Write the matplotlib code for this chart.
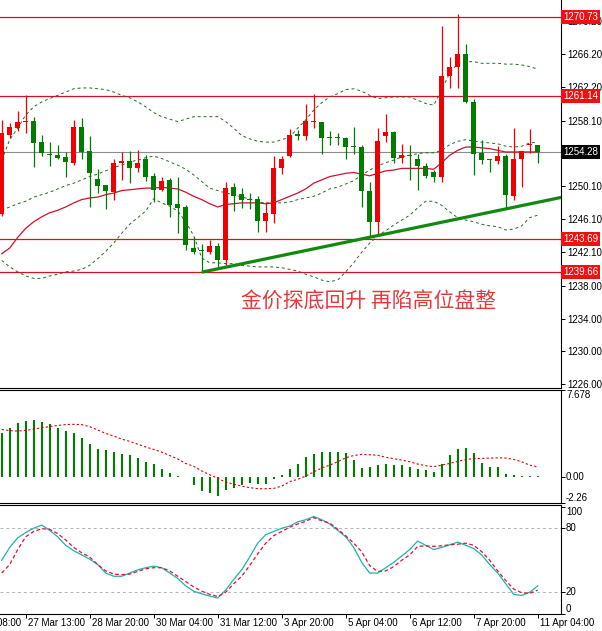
import numpy as np
import matplotlib
matplotlib.use('Agg')
import matplotlib.pyplot as plt
import matplotlib.transforms as mtransforms

# ---- candles (4h bars), oldest first ----
opens = [1246.8, 1256.4, 1257.2, 1257.9, 1258.1, 1255.5, 1253.95, 1253.9, 1253.7, 1253.0,
         1257.4, 1254.4, 1251.0, 1250.3, 1249.4, 1253.0, 1253.2, 1252.4, 1253.5, 1251.4,
         1249.7, 1250.9, 1248.0, 1247.6, 1242.6, 1242.3, 1242.1, 1242.8, 1241.1, 1250.0,
         1249.2, 1248.6, 1248.6, 1245.9, 1246.7, 1252.3, 1253.8, 1256.4, 1256.2, 1257.9,
         1258.0, 1256.05, 1256.05, 1256.05, 1254.9, 1254.95, 1249.5, 1245.8, 1256.2, 1256.7,
         1253.6, 1253.9, 1253.4, 1252.6, 1251.9, 1251.2, 1263.5, 1264.6, 1266.2, 1260.4,
         1254.2, 1253.4, 1253.2, 1253.8, 1248.9, 1253.5, 1255.2, 1255.2]
highs = [1258.2, 1257.8, 1259.3, 1261.2, 1258.6, 1256.4, 1255.5, 1255.1, 1254.3, 1258.2,
         1258.4, 1256.2, 1252.2, 1250.3, 1253.4, 1254.3, 1254.4, 1254.5, 1253.9, 1251.7,
         1251.2, 1251.1, 1251.3, 1247.8, 1244.0, 1243.1, 1243.6, 1243.2, 1250.6, 1250.5,
         1249.9, 1249.3, 1248.9, 1248.2, 1253.8, 1253.8, 1257.1, 1257.0, 1260.1, 1261.4,
         1258.0, 1256.8, 1256.6, 1256.1, 1257.4, 1255.2, 1250.6, 1257.2, 1258.9, 1256.8,
         1255.3, 1255.1, 1254.1, 1252.9, 1252.1, 1269.6, 1265.9, 1271.1, 1267.5, 1260.8,
         1255.8, 1253.5, 1255.0, 1254.0, 1257.2, 1254.4, 1257.1, 1255.2]
lows = [1246.5, 1256.0, 1256.9, 1256.6, 1252.5, 1253.8, 1252.6, 1253.4, 1251.2, 1252.7,
        1253.5, 1247.6, 1249.3, 1247.3, 1248.5, 1250.9, 1250.5, 1251.9, 1250.8, 1248.2,
        1249.6, 1246.4, 1244.4, 1242.4, 1241.9, 1239.66, 1241.9, 1240.3, 1240.5, 1247.1,
        1247.5, 1247.4, 1244.5, 1244.5, 1245.6, 1251.6, 1253.7, 1255.8, 1255.8, 1257.2,
        1254.1, 1255.2, 1255.1, 1253.5, 1254.1, 1247.6, 1244.0, 1244.2, 1255.5, 1252.9,
        1252.9, 1250.9, 1249.7, 1251.1, 1250.6, 1250.7, 1262.1, 1262.1, 1260.3, 1251.5,
        1252.8, 1251.9, 1252.8, 1247.4, 1248.5, 1250.0, 1254.2, 1253.0]
closes = [1256.6, 1257.4, 1258.0, 1258.1, 1255.4, 1254.2, 1253.9, 1253.6, 1253.1, 1257.4,
          1254.3, 1251.7, 1250.2, 1249.5, 1253.0, 1253.2, 1252.4, 1253.0, 1251.3, 1249.7,
          1250.8, 1247.8, 1247.5, 1243.0, 1242.1, 1242.2, 1242.8, 1241.1, 1249.9, 1248.9,
          1248.5, 1248.5, 1245.9, 1246.9, 1252.4, 1253.4, 1256.4, 1256.3, 1258.1, 1258.0,
          1256.0, 1256.0, 1256.0, 1254.9, 1254.85, 1249.6, 1245.8, 1255.6, 1256.7, 1253.6,
          1253.9, 1253.85, 1252.6, 1251.4, 1251.2, 1263.6, 1264.7, 1266.2, 1260.4, 1254.1,
          1253.3, 1253.35, 1253.8, 1249.0, 1253.5, 1254.4, 1255.3, 1254.28]

# Bollinger bands + moving average
bb_upper = [1253.3, 1255.8, 1257.2, 1258.8, 1259.8, 1260.4, 1260.8, 1261.2, 1261.6, 1262.0,
            1262.1, 1262.1, 1262.0, 1261.9, 1261.6, 1261.2, 1260.9, 1260.4, 1259.8, 1259.1,
            1258.6, 1258.3, 1258.0, 1258.3, 1258.6, 1258.6, 1258.6, 1258.6, 1258.0, 1257.2,
            1256.3, 1255.9, 1255.6, 1255.5, 1255.5, 1255.8, 1256.1, 1257.2, 1258.2, 1259.4,
            1260.3, 1261.0, 1261.4, 1261.9, 1262.0, 1261.7, 1261.2, 1260.8, 1260.9, 1261.0,
            1261.0, 1261.0, 1260.6, 1260.2, 1260.0, 1261.9, 1263.9, 1265.1, 1265.3, 1265.3,
            1265.1, 1265.1, 1265.1, 1265.0, 1265.0, 1264.9, 1264.7, 1264.4]
bb_mid = [1247.2, 1247.6, 1248.0, 1248.3, 1248.8, 1249.1, 1249.4, 1249.8, 1250.2, 1250.5,
          1250.9, 1251.3, 1251.6, 1252.0, 1252.4, 1252.7, 1253.1, 1253.3, 1253.6, 1253.8,
          1253.5, 1253.1, 1252.7, 1252.2, 1251.5, 1250.7, 1249.9, 1249.6, 1249.3, 1249.1,
          1248.8, 1248.6, 1248.2, 1248.1, 1248.1, 1248.1, 1248.2, 1248.5, 1248.7, 1248.9,
          1249.3, 1249.8, 1250.0, 1250.4, 1250.8, 1251.5, 1252.1, 1252.6, 1253.0, 1253.3,
          1253.7, 1253.9, 1254.1, 1254.2, 1254.2, 1254.5, 1255.2, 1255.6, 1255.8, 1255.6,
          1255.5, 1255.4, 1255.3, 1255.0, 1254.9, 1255.0, 1255.4, 1255.5]
bb_lower = [1241.1, 1240.3, 1239.7, 1239.2, 1238.9, 1238.9, 1239.2, 1239.4, 1239.7, 1239.8,
            1240.0, 1240.5, 1241.3, 1242.2, 1243.2, 1244.4, 1245.5, 1246.3, 1247.1, 1248.6,
            1248.1, 1247.7, 1247.1, 1245.8, 1244.1, 1241.4, 1240.8, 1240.8, 1240.7, 1240.7,
            1240.5, 1240.4, 1240.3, 1240.3, 1240.3, 1240.2, 1240.0, 1239.8, 1239.4, 1239.1,
            1238.7, 1238.5, 1238.7, 1239.7, 1240.8, 1242.1, 1243.2, 1244.1, 1244.7, 1245.4,
            1246.0, 1246.6, 1247.5, 1248.3, 1248.3, 1247.8, 1247.0, 1246.3, 1246.0, 1245.8,
            1245.5, 1245.3, 1245.2, 1244.8, 1244.9, 1245.3, 1246.3, 1246.6]
ma_red = [1241.9, 1242.6, 1243.9, 1245.0, 1245.8, 1246.4, 1246.9, 1247.2, 1247.6, 1248.1,
          1248.5, 1248.7, 1248.8, 1249.1, 1249.3, 1249.6, 1249.7, 1249.8, 1249.9, 1249.9,
          1250.0, 1249.9, 1249.8, 1249.4, 1248.9, 1248.5, 1248.0, 1247.6, 1247.9, 1248.0,
          1248.1, 1248.1, 1248.1, 1248.0, 1248.1, 1248.5, 1248.9, 1249.3, 1249.8, 1250.5,
          1250.9, 1251.3, 1251.5, 1251.7, 1251.8, 1251.6, 1251.4, 1251.7, 1252.0, 1252.1,
          1252.3, 1252.3, 1252.3, 1252.3, 1252.2, 1253.0, 1253.9, 1254.5, 1254.9, 1254.9,
          1254.8, 1254.7, 1254.5, 1254.3, 1254.3, 1254.3, 1254.3, 1254.3]

# horizontal levels and trend line (bar index, price)
levels = [1270.73, 1261.14, 1243.69, 1239.66]
last_price = 1254.28
trend_x = [25, 70]
trend_y = [1239.66, 1248.78]
price_ticks = [1226.00, 1230.00, 1234.00, 1238.00, 1242.10, 1246.10, 1250.10,
               1254.10, 1258.10, 1262.20, 1266.20, 1270.20]
hidden_ticks = [1254.10]  # sits right under the bid label

# MACD histogram + signal
macd_hist = [3.91, 4.35, 4.74, 4.94, 5.0, 4.85, 4.7, 4.29, 4.06, 3.91,
             3.41, 2.94, 2.44, 2.35, 2.21, 2.0, 1.91, 1.65, 1.32, 1.12,
             0.74, 0.38, 0.09, 0.05, -0.74, -1.24, -1.38, -1.68, -1.18, -0.94,
             -0.74, -0.56, -0.59, -0.65, -0.21, 0.15, 0.74, 1.18, 1.76, 2.0,
             2.21, 2.21, 2.21, 2.09, 1.5, 0.82, 0.91, 1.09, 1.12, 1.03,
             1.03, 0.91, 0.68, 0.62, 0.44, 1.18, 1.91, 2.5, 2.59, 2.09,
             1.21, 0.91, 0.91, 0.29, 0.15, 0.09, 0.09, 0.09]
macd_signal = [4.2, 4.1, 4.06, 4.12, 4.22, 4.35, 4.45, 4.55, 4.63, 4.65,
               4.62, 4.45, 4.15, 3.85, 3.62, 3.35, 3.15, 2.9, 2.65, 2.44,
               2.2, 1.9, 1.6, 1.2, 0.95, 0.55, 0.2, -0.1, -0.45, -0.62,
               -0.8, -0.93, -1.02, -1.03, -1.0, -0.8, -0.4, -0.2, 0.09, 0.45,
               0.8, 1.05, 1.35, 1.7, 1.9, 2.0, 1.97, 1.92, 1.75, 1.62,
               1.5, 1.35, 1.15, 1.0, 0.92, 1.05, 1.2, 1.38, 1.55, 1.63,
               1.65, 1.67, 1.7, 1.68, 1.56, 1.35, 1.05, 0.9]
macd_top, macd_bottom = 7.678, -2.26

# stochastic
stoch_k = [50, 62, 71, 76, 80, 83, 78, 72, 64, 59,
           55, 51, 46, 38, 35, 35, 38, 41, 43, 44.5,
           43, 38, 33, 26, 21, 18.5, 16.5, 14.5, 22, 32,
           41, 53, 66, 74, 77, 80, 82, 86, 88, 91,
           88, 84, 78, 72, 62, 48, 38, 38, 43, 48,
           54, 60, 68, 64, 60, 62, 64.5, 67, 64, 61,
           55, 46, 38, 28, 18, 17, 20, 26]
stoch_d = [38, 46, 60, 72, 77, 79.5, 79, 75, 69, 62,
           57, 53, 46, 40, 37, 36.5, 37, 39.5, 42, 43,
           43, 40, 35, 30, 25, 21, 18, 16, 20, 28,
           35, 45, 56, 66, 73, 77, 81, 84, 86.5, 90,
           87, 85, 79, 73, 66, 58, 45, 39.5, 40, 44,
           50, 55, 63, 63.5, 63, 63.5, 64.5, 65, 66, 64,
           58, 50, 40, 31, 23, 19.5, 19, 22]
stoch_levels = [80, 20]

# time axis
time_pos = [-5, 3, 11, 19, 27, 35, 43, 51, 59, 67]
time_labels = ['26 Mar 08:00', '27 Mar 13:00', '28 Mar 20:00', '30 Mar 04:00',
               '31 Mar 12:00', '3 Apr 20:00', '5 Apr 04:00', '6 Apr 12:00',
               '7 Apr 20:00', '11 Apr 04:00']

title = '金价探底回升 再陷高位盘整'

RED = '#f00000'
GREEN = '#007d00'

plt.rcParams['font.family'] = ['Liberation Sans', 'DejaVu Sans']
FS = 7

fig = plt.figure(figsize=(6.02, 6.31), dpi=100)
W, H = 602.0, 631.0
right = 561 / W
ax = fig.add_axes([0, 1 - 387.7 / H, right, 387.7 / H])
ax2 = fig.add_axes([0, 1 - 502.7 / H, right, 112.7 / H])
ax3 = fig.add_axes([0, 1 - 614 / H, right, 109 / H])

n = len(opens)
idx = np.arange(n)
xlim = (-0.2125, 69.9125)

for a in (ax, ax2, ax3):
    a.set_xlim(*xlim)
    a.spines['left'].set_visible(False)
    for s in ('right', 'top', 'bottom'):
        a.spines[s].set_linewidth(0.8)
    a.yaxis.tick_right()
    a.tick_params(axis='y', direction='out', length=3, width=0.7, pad=1.5,
                  labelsize=FS)
    a.tick_params(axis='x', bottom=False, labelbottom=False)
ax.spines['top'].set_visible(False)

# ---- main price window ----
o = np.array(opens); h = np.array(highs); l = np.array(lows); c = np.array(closes)
cols = np.where(c >= o, RED, GREEN)
ax.plot(idx, bb_upper, color='#1d6e1d', lw=0.7, ls=(0, (3, 3)), zorder=2)
ax.plot(idx, bb_mid, color='#1d6e1d', lw=0.7, ls=(0, (3, 3)), zorder=2)
ax.plot(idx, bb_lower, color='#1d6e1d', lw=0.7, ls=(0, (3, 3)), zorder=2)
ax.plot(idx, ma_red, color='#d0102c', lw=0.9, zorder=2)
for lv in levels:
    ax.axhline(lv, color='#d81020', lw=0.9, zorder=1)
ax.axhline(last_price, color='#8c8c8c', lw=0.8, zorder=1)
ax.vlines(idx, l, h, colors=cols, lw=0.9, zorder=3)
ax.bar(idx, np.maximum(np.abs(c - o), 0.13), bottom=np.minimum(o, c),
       width=0.64, color=cols, lw=0, zorder=4)
ax.plot(trend_x, trend_y, color='#0f8a0f', lw=2.3, solid_capstyle='butt', zorder=5)

ax.set_ylim(1225.59, 1272.81)
ax.set_yticks(price_ticks)
ax.set_yticklabels(['' if t in hidden_ticks else '%.2f' % t for t in price_ticks])

ytr = mtransforms.blended_transform_factory(ax.transAxes, ax.transData)
for lv in levels:
    ax.text(563 / 561.0, lv, '%.2f' % lv, transform=ytr, ha='left', va='center',
            fontsize=FS, color='white', clip_on=False, zorder=10,
            bbox=dict(boxstyle='square,pad=0.18', fc='#ee1111', ec='none'))
ax.text(563 / 561.0, last_price, '%.2f' % last_price, transform=ytr, ha='left',
        va='center', fontsize=FS, color='white', clip_on=False, zorder=10,
        bbox=dict(boxstyle='square,pad=0.18', fc='black', ec='none'))

ax.text(0.657, 0.222, title, transform=ax.transAxes, ha='center', va='center',
        fontsize=15, color='#e33a3a', family=['Noto Sans CJK SC', 'DejaVu Sans'])

# ---- MACD window ----
ax2.vlines(idx, 0, macd_hist, colors=GREEN, lw=1.5)
ax2.plot(idx, macd_signal, color='#e00000', lw=0.8, ls=(0, (2, 2)))
ax2.set_ylim(macd_bottom, macd_top)
ax2.set_yticks([macd_top, 0, macd_bottom])
ax2.set_yticklabels([])
ytr2 = mtransforms.blended_transform_factory(ax2.transAxes, ax2.transData)
ax2.text(1.009, macd_top, '%.3f' % macd_top, transform=ytr2, ha='left', va='top',
         fontsize=FS, clip_on=False)
ax2.text(1.009, 0, '0.00', transform=ytr2, ha='left', va='center',
         fontsize=FS, clip_on=False)
ax2.text(1.009, macd_bottom, '%.2f' % macd_bottom, transform=ytr2, ha='left',
         va='bottom', fontsize=FS, clip_on=False)

# ---- Stochastic window ----
for lv in stoch_levels:
    ax3.axhline(lv, color='#b4b4b4', lw=0.7, ls=(0, (3, 3)))
ax3.plot(idx, stoch_k, color='#20b2aa', lw=0.9)
ax3.plot(idx, stoch_d, color='#e0103a', lw=0.9, ls=(0, (3, 2)))
ax3.set_ylim(-0.4, 101.8)
ax3.set_yticks([100, 80, 20, 0])
ax3.set_yticklabels([])
ytr3 = mtransforms.blended_transform_factory(ax3.transAxes, ax3.transData)
for v, va in ((100, 'top'), (80, 'center'), (20, 'center'), (0, 'bottom')):
    ax3.text(1.009, v, str(v), transform=ytr3, ha='left', va=va,
             fontsize=FS, clip_on=False)

ax3.set_xticks([p for p in time_pos if xlim[0] <= p <= xlim[1]])
ax3.tick_params(axis='x', bottom=True, direction='out', length=3, width=0.7)
xtr = mtransforms.blended_transform_factory(ax3.transData, ax3.transAxes)
xtr = mtransforms.offset_copy(xtr, fig=fig, x=2, y=-9, units='dots')
for p, lab in zip(time_pos, time_labels):
    ax3.text(p, 0, lab, transform=xtr, ha='left', va='center', fontsize=FS,
             clip_on=False)

fig.savefig('out.png', dpi=100)
